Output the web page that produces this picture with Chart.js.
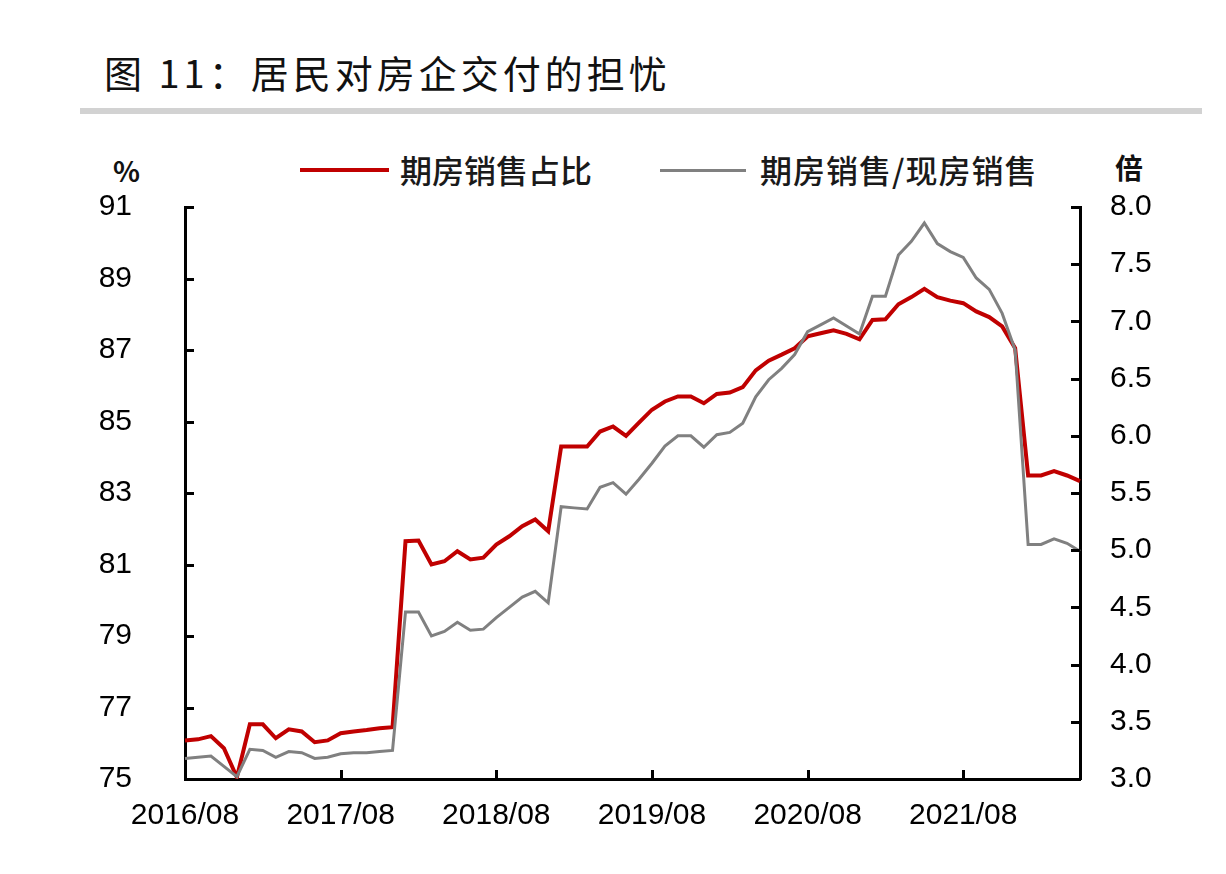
<!DOCTYPE html>
<html lang="zh-CN">
<head>
<meta charset="utf-8">
<title>图 11：居民对房企交付的担忧</title>
<script src="https://cdn.jsdelivr.net/npm/chart.js@4/dist/chart.umd.min.js"></script>
<style>
  html, body { margin: 0; padding: 0; background: #fff; }
  body { width: 1226px; height: 874px; position: relative; overflow: hidden; font-family: "Liberation Sans", "Noto Sans CJK SC", sans-serif; }
  #grafico { position: absolute; left: 0; top: 0; }
  .titulo { position: absolute; left: 104px; top: 53px; font-family: "Noto Sans CJK SC"; font-size: 38px; line-height: 1; letter-spacing: 4px; color: #111; white-space: nowrap; }
  .regua { position: absolute; left: 80px; top: 108px; width: 1122px; height: 6px; background: #d2d2d2; }
  .leg-linha { position: absolute; }
  .leg-texto { position: absolute; top: 152px; font-family: "Noto Sans CJK SC"; font-size: 32px; line-height: 34px; font-weight: 500; color: #1a1a1a; white-space: nowrap; }
  .unidade { position: absolute; font-family: "Noto Sans CJK SC"; font-size: 28px; font-weight: 700; line-height: 30px; color: #111; }
</style>
</head>
<body>
<div class="titulo">图 11：居民对房企交付的担忧</div>
<div class="regua"></div>

<div class="leg-linha" style="left:300px; top:168px; width:89px; height:4px; background:#c00000;"></div>
<div class="leg-texto" style="left:400px;">期房销售占比</div>
<div class="leg-linha" style="left:660px; top:169px; width:86px; height:3px; background:#808080;"></div>
<div class="leg-texto" style="left:760px; letter-spacing:1px;">期房销售/现房销售</div>

<div class="unidade" style="left:113px; top:155px;">%</div>
<div class="unidade" style="left:1115px; top:152px;">倍</div>

<canvas id="grafico" width="1226" height="874"></canvas>

<script>
// 月份：2016/08 到 2022/05
const meses = [];
for (let i = 0; i < 70; i++) {
  const t = 2016 * 12 + 7 + i;
  const ano = Math.floor(t / 12);
  const mes = (t % 12) + 1;
  meses.push(ano + '/' + String(mes).padStart(2, '0'));
}

// 横轴显示的刻度
const rotulosX = ['2016/08', '2017/08', '2018/08', '2019/08', '2020/08', '2021/08'];

// 期房销售占比 (%)，左轴
const periodoPct = [
  76.08, 76.11, 76.20, 75.86, 75.05, 76.53, 76.53, 76.14, 76.39, 76.33,
  76.03, 76.08, 76.28, 76.33, 76.37, 76.42, 76.45, 81.65, 81.67, 81.00,
  81.09, 81.37, 81.14, 81.19, 81.56, 81.79, 82.07, 82.26, 81.93, 84.30,
  84.30, 84.30, 84.72, 84.86, 84.60, 84.97, 85.33, 85.56, 85.70, 85.70,
  85.51, 85.77, 85.81, 85.96, 86.43, 86.70, 86.87, 87.05, 87.38, 87.47,
  87.55, 87.45, 87.30, 87.84, 87.86, 88.28, 88.48, 88.71, 88.48, 88.38,
  88.31, 88.08, 87.92, 87.66, 87.05, 83.49, 83.49, 83.61, 83.49, 83.33,
];

// 期房销售/现房销售 (倍)，右轴
const periodoRazao = [
  3.18, 3.19, 3.20, 3.11, 3.02, 3.26, 3.25, 3.19, 3.24, 3.23,
  3.18, 3.19, 3.22, 3.23, 3.23, 3.24, 3.25, 4.46, 4.46, 4.25,
  4.29, 4.37, 4.30, 4.31, 4.41, 4.50, 4.59, 4.64, 4.54, 5.38,
  5.37, 5.36, 5.55, 5.59, 5.49, 5.62, 5.76, 5.91, 6.00, 6.00,
  5.90, 6.01, 6.03, 6.11, 6.34, 6.49, 6.59, 6.71, 6.91, 6.97,
  7.03, 6.96, 6.89, 7.22, 7.22, 7.58, 7.70, 7.86, 7.68, 7.61,
  7.56, 7.38, 7.28, 7.07, 6.75, 5.05, 5.05, 5.10, 5.06, 4.99,
];

const fonteEixo = { family: '"Liberation Sans", Arial, sans-serif', size: 30 };

// 轴内侧的小刻度线
const marcasInternas = {
  id: 'marcasInternas',
  afterDraw(chart) {
    const { ctx, chartArea, scales } = chart;
    const comp = 9;
    ctx.save();
    ctx.strokeStyle = '#000';
    ctx.lineWidth = 3;
    ctx.beginPath();
    scales.y.ticks.forEach((t) => {
      const py = Math.round(scales.y.getPixelForValue(t.value)) + 0.5;
      ctx.moveTo(chartArea.left, py);
      ctx.lineTo(chartArea.left + comp, py);
    });
    scales.y2.ticks.forEach((t) => {
      const py = Math.round(scales.y2.getPixelForValue(t.value)) + 0.5;
      ctx.moveTo(chartArea.right, py);
      ctx.lineTo(chartArea.right - comp, py);
    });
    rotulosX.forEach((r) => {
      const px = Math.round(scales.x.getPixelForValue(meses.indexOf(r))) + 0.5;
      ctx.moveTo(px, chartArea.bottom);
      ctx.lineTo(px, chartArea.bottom - comp);
    });
    ctx.stroke();
    ctx.restore();
  },
};

new Chart(document.getElementById('grafico'), {
  type: 'line',
  data: {
    labels: meses,
    datasets: [
      {
        label: '期房销售占比',
        data: periodoPct,
        yAxisID: 'y',
        borderColor: '#c00000',
        borderWidth: 4,
        pointRadius: 0,
        tension: 0,
        order: 1,
      },
      {
        label: '期房销售/现房销售',
        data: periodoRazao,
        yAxisID: 'y2',
        borderColor: '#808080',
        borderWidth: 3,
        pointRadius: 0,
        tension: 0,
        order: 0,
      },
    ],
  },
  options: {
    responsive: false,
    animation: false,
    devicePixelRatio: 1,
    layout: { padding: { top: 207, left: 0, right: 0, bottom: 0 } },
    plugins: {
      legend: { display: false },
      tooltip: { enabled: false },
    },
    scales: {
      x: {
        type: 'category',
        offset: false,
        grid: { display: false },
        border: { display: true, color: '#000', width: 3 },
        ticks: {
          autoSkip: false,
          maxRotation: 0,
          padding: 11,
          color: '#000',
          font: fonteEixo,
          callback(value) {
            const l = this.getLabelForValue(value);
            return rotulosX.includes(l) ? l : '';
          },
        },
        afterFit(s) { s.height = 95; },
      },
      y: {
        position: 'left',
        min: 75,
        max: 91,
        grid: { display: false },
        border: { display: true, color: '#000', width: 3 },
        ticks: { stepSize: 2, padding: 45, color: '#000', font: fonteEixo },
        afterFit(s) { s.width = 185; },
      },
      y2: {
        position: 'right',
        min: 3,
        max: 8,
        grid: { display: false },
        border: { display: true, color: '#000', width: 3 },
        ticks: {
          stepSize: 0.5,
          padding: 22,
          color: '#000',
          font: fonteEixo,
          callback: (v) => v.toFixed(1),
        },
        afterFit(s) { s.width = 146; },
      },
    },
  },
  plugins: [marcasInternas],
});
</script>
</body>
</html>
